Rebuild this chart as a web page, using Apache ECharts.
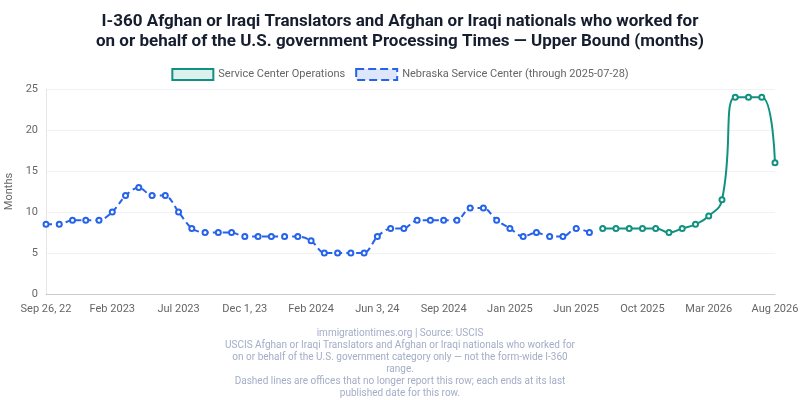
<!DOCTYPE html>
<html>
<head>
<meta charset="utf-8">
<title>I-360 Processing Times</title>
<script src="https://cdn.jsdelivr.net/npm/echarts@6/dist/echarts.min.js"></script>
<style>
    html, body { margin: 0; padding: 0; background: #fff; }
    #main { width: 800px; height: 400px; }
</style>
</head>
<body>
<div id="main"></div>
<script>
// categories (report dates), labels shown every 5th point
var dates = [
    'Sep 26, 22', 'Oct 2022', 'Nov 2022', 'Dec 2022', 'Jan 2023',
    'Feb 2023', 'Mar 2023', 'Apr 2023', 'May 2023', 'Jun 2023',
    'Jul 2023', 'Aug 2023', 'Sep 2023', 'Oct 2023', 'Nov 2023',
    'Dec 1, 23', 'Dec 2023', 'Jan 2024', 'Jan 2024 ', 'Feb 1, 24',
    'Feb 2024', 'Mar 2024', 'Apr 2024', 'May 2024', 'May 2024 ',
    'Jun 3, 24', 'Jul 2024', 'Jul 2024 ', 'Aug 2024', 'Aug 2024 ',
    'Sep 2024', 'Oct 2024', 'Nov 2024', 'Nov 2024 ', 'Dec 2024',
    'Jan 2025', 'Feb 2025', 'Mar 2025', 'Apr 2025', 'May 2025',
    'Jun 2025', 'Jul 2025', 'Aug 2025', 'Sep 2025', 'Sep 2025 ',
    'Oct 2025', 'Nov 2025', 'Dec 2025', 'Jan 2026', 'Feb 2026',
    'Mar 2026', 'Apr 2026', 'May 2026', 'Jun 2026', 'Jul 2026',
    'Aug 2026'
];

// Nebraska Service Center (stops reporting after Jul 2025)
var nebraska = [
    8.5, 8.5, 9, 9, 9, 10, 12, 13, 12, 12,
    10, 8, 7.5, 7.5, 7.5, 7, 7, 7, 7, 7,
    6.5, 5, 5, 5, 5, 7, 8, 8, 9, 9,
    9, 9, 10.5, 10.5, 9, 8, 7, 7.5, 7, 7,
    8, 7.5, null, null, null, null, null, null, null, null,
    null, null, null, null, null, null
];

// Service Center Operations
var serviceCenter = [
    null, null, null, null, null, null, null, null, null, null,
    null, null, null, null, null, null, null, null, null, null,
    null, null, null, null, null, null, null, null, null, null,
    null, null, null, null, null, null, null, null, null, null,
    null, null, 8, 8, 8, 8, 8, 7.5, 8, 8.5,
    9.5, 11.5, 24, 24, 24, 16
];

var yTicks = { min: 0, max: 25, interval: 5 };

var footer = 'immigrationtimes.org | Source: USCIS\n' +
    'USCIS Afghan or Iraqi Translators and Afghan or Iraqi nationals who worked for\n' +
    'on or behalf of the U.S. government category only \u2014 not the form-wide I-360\n' +
    'range.\n' +
    'Dashed lines are offices that no longer report this row; each ends at its last\n' +
    'published date for this row.';

var chart = echarts.init(document.getElementById('main'));

var option = {
    backgroundColor: '#fff',
    textStyle: { fontFamily: 'Roboto, "Liberation Sans", sans-serif' },
    title: [{
        text: 'I-360 Afghan or Iraqi Translators and Afghan or Iraqi nationals who worked for\non or behalf of the U.S. government Processing Times \u2014 Upper Bound (months)',
        left: 'center',
        top: 7,
        textStyle: { fontSize: 17, fontWeight: 'bold', color: '#151d2e', lineHeight: 20 }
    }, {
        text: footer,
        left: 'center',
        top: 322,
        textStyle: { fontSize: 10, fontWeight: 'normal', color: '#a3adc6', lineHeight: 12, align: 'center' }
    }],
    legend: {
        top: 63,
        left: 'center',
        itemWidth: 41,
        itemHeight: 11,
        itemGap: 10,
        textStyle: { fontSize: 11, color: '#666' },
        data: [{
            name: 'Service Center Operations',
            icon: 'rect',
            itemStyle: { color: '#dcf1ed', borderColor: '#11917f', borderWidth: 2 }
        }, {
            name: 'Nebraska Service Center (through 2025-07-28)',
            icon: 'rect',
            itemStyle: { color: '#dde6fb', borderColor: '#2563eb', borderWidth: 2, borderType: 'dashed' }
        }]
    },
    grid: { left: 46, right: 25, top: 89, bottom: 106, outerBoundsMode: 'none' },
    xAxis: {
        type: 'category',
        data: dates,
        boundaryGap: false,
        axisLine: { lineStyle: { color: '#cccccc' } },
        axisTick: { show: false },
        axisLabel: { interval: 4, color: '#666', fontSize: 11, margin: 10 }
    },
    yAxis: {
        type: 'value',
        min: yTicks.min,
        max: yTicks.max,
        interval: yTicks.interval,
        name: 'Months',
        nameLocation: 'middle',
        nameGap: 28,
        nameTextStyle: { color: '#666', fontSize: 11 },
        axisLine: { show: true, lineStyle: { color: '#e6e6e6' } },
        axisLabel: { color: '#666', fontSize: 11 },
        splitLine: { lineStyle: { color: '#eff1f5' } }
    },
    series: [{
        name: 'Service Center Operations',
        type: 'line',
        data: serviceCenter,
        smooth: true,
        symbol: 'emptyCircle',
        symbolSize: 5,
        color: '#11917f',
        lineStyle: { width: 2, color: '#11917f' },
        itemStyle: { color: '#11917f', borderWidth: 2.5 }
    }, {
        name: 'Nebraska Service Center (through 2025-07-28)',
        type: 'line',
        data: nebraska,
        smooth: 0.3,
        symbol: 'emptyCircle',
        symbolSize: 5,
        color: '#2563eb',
        lineStyle: { width: 2, type: [6, 4], color: '#2563eb' },
        itemStyle: { color: '#2563eb', borderWidth: 3 }
    }]
};

chart.setOption(option);
</script>
</body>
</html>
